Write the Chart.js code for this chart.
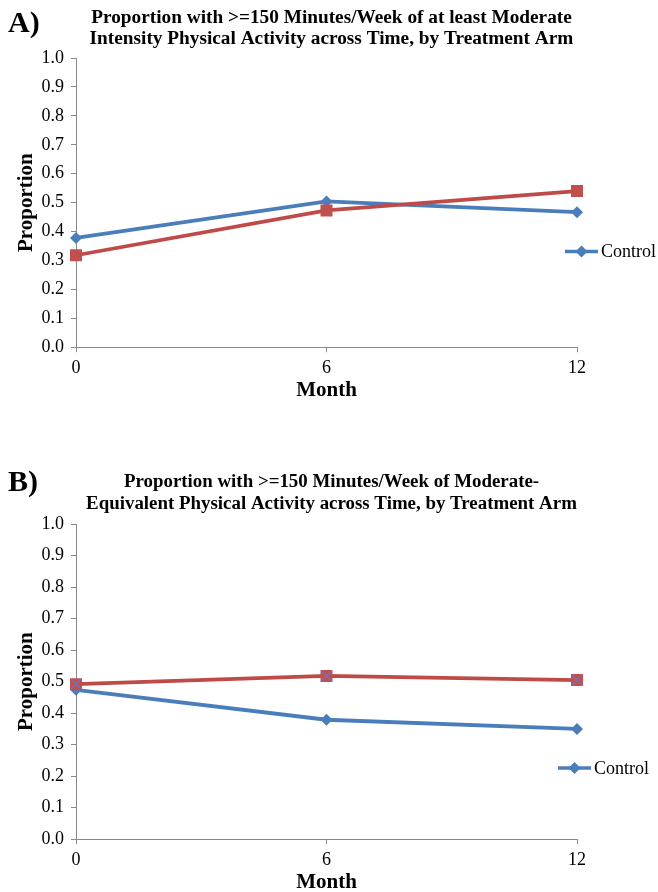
<!DOCTYPE html>
<html>
<head>
<meta charset="utf-8">
<script src="https://cdn.jsdelivr.net/npm/chart.js@4.4.1/dist/chart.umd.min.js"></script>
<style>
  html, body { margin: 0; padding: 0; background: #fff; overflow: hidden; }
  body { width: 658px; height: 892px; position: relative; }
  .panel { position: absolute; left: 0; width: 658px; }
  .tag { position: absolute; left: 8px; font: bold 30px 'Liberation Serif', 'Times New Roman', serif; line-height: 30px; color: #000; }
</style>
</head>
<body>
<div class="panel" id="pa" style="top:0;height:398px;"><canvas id="ca" width="658" height="398"></canvas></div>
<div class="panel" id="pb" style="top:460px;height:430px;"><canvas id="cb" width="658" height="430"></canvas></div>
<div class="tag" style="top:7px;">A)</div>
<div class="tag" style="top:466px;">B)</div>
<script>
// ---- data ----
const months = ['0', '6', '12'];
const controlA = [0.378, 0.504, 0.467];
const interventionA = [0.318, 0.473, 0.540];
const controlB = [0.474, 0.379, 0.350];
const interventionB = [0.492, 0.518, 0.505];
const seriesNames = ['Control', 'Intervention'];
const titleA = ['Proportion with >=150 Minutes/Week of at least Moderate', 'Intensity Physical Activity across Time, by Treatment Arm'];
const titleB = ['Proportion with >=150 Minutes/Week of Moderate-', 'Equivalent Physical Activity across Time, by Treatment Arm'];
const yAxisTitle = 'Proportion';
const xAxisTitle = 'Month';

const FONT = "'Liberation Serif', 'Times New Roman', serif";
const BLUE = '#4A7EBB';
const RED = '#BE4B48';
const AXIS = '#8A8A8A';

// custom legend (only first series shown, as in the reference)
const sideLegend = {
  id: 'sideLegend',
  afterDraw(chart, args, opts) {
    const ctx = chart.ctx;
    const ds = chart.data.datasets[0];
    const x = opts.x, y = opts.y;
    ctx.save();
    ctx.strokeStyle = ds.borderColor;
    ctx.lineWidth = 3.5;
    ctx.beginPath();
    ctx.moveTo(x, y);
    ctx.lineTo(x + 33, y);
    ctx.stroke();
    const cx = x + 16.5, r = 6;
    ctx.fillStyle = ds.pointBackgroundColor;
    ctx.beginPath();
    ctx.moveTo(cx, y - r); ctx.lineTo(cx + r, y); ctx.lineTo(cx, y + r); ctx.lineTo(cx - r, y);
    ctx.closePath();
    ctx.fill();
    ctx.fillStyle = '#000';
    ctx.font = '18px ' + FONT;
    ctx.textBaseline = 'middle';
    ctx.textAlign = 'left';
    ctx.fillText(ds.label, x + 36, y + 1);
    ctx.restore();
  }
};

// X overlay on the squares of panel B
const crossMarks = {
  id: 'crossMarks',
  afterDatasetsDraw(chart, args, opts) {
    if (!opts.enabled) return;
    const meta = chart.getDatasetMeta(1);
    const ctx = chart.ctx;
    ctx.save();
    ctx.strokeStyle = '#7A6FB0';
    ctx.lineWidth = 1.5;
    meta.data.forEach(p => {
      const s = 5;
      ctx.beginPath();
      ctx.moveTo(p.x - s, p.y - s); ctx.lineTo(p.x + s, p.y + s);
      ctx.moveTo(p.x + s, p.y - s); ctx.lineTo(p.x - s, p.y + s);
      ctx.stroke();
    });
    ctx.restore();
  }
};

function makeChart(canvasId, title, ctrl, intv, cfg) {
  return new Chart(document.getElementById(canvasId), {
    type: 'line',
    data: {
      labels: months,
      datasets: [
        {
          label: seriesNames[0], data: ctrl, order: 1,
          borderColor: BLUE, backgroundColor: BLUE, borderWidth: 3.8,
          pointStyle: 'rectRot', pointRadius: 6, pointBorderWidth: 0,
          pointBackgroundColor: BLUE, pointBorderColor: BLUE, tension: 0
        },
        {
          label: seriesNames[1], data: intv, order: 0,
          borderColor: RED, backgroundColor: RED, borderWidth: 3.8,
          pointStyle: 'rect', pointRadius: 8.5, pointBorderWidth: 0,
          pointBackgroundColor: '#C0504D', pointBorderColor: '#C0504D', tension: 0
        }
      ]
    },
    options: {
      responsive: false,
      animation: false,
      devicePixelRatio: 1,
      layout: { padding: { left: 5, right: 0, top: 0, bottom: 0 } },
      plugins: {
        legend: { display: false },
        tooltip: { enabled: false },
        title: {
          display: true, text: title, color: '#000',
          font: { family: FONT, size: cfg.titleSize, weight: 'bold', lineHeight: cfg.titleLH },
          padding: cfg.titlePad
        },
        sideLegend: { x: cfg.legX, y: cfg.legY },
        crossMarks: { enabled: cfg.cross }
      },
      scales: {
        x: {
          type: 'category', offset: false,
          grid: { display: true, drawOnChartArea: false, drawTicks: true, tickLength: 5, color: AXIS, lineWidth: 1 },
          border: { display: true, color: AXIS, width: 1 },
          ticks: { color: '#000', padding: 5, font: { family: FONT, size: 18 }, maxRotation: 0 },
          title: { display: true, text: xAxisTitle, color: '#000', padding: { top: 0, bottom: 0 },
                   font: { family: FONT, size: 21, weight: 'bold', lineHeight: 0.676 } }
        },
        y: {
          type: 'linear', min: 0, max: 1,
          grid: { display: true, drawOnChartArea: false, drawTicks: true, tickLength: 5, color: AXIS, lineWidth: 1 },
          border: { display: true, color: AXIS, width: 1 },
          ticks: { stepSize: 0.1, color: '#000', padding: 7, font: { family: FONT, size: 18 },
                   callback: v => Number(v).toFixed(1) },
          title: { display: true, text: yAxisTitle, color: '#000', padding: { top: 9, bottom: 0 },
                   font: { family: FONT, size: 21, weight: 'bold' } },
          afterFit(s) { s.width = 71; }
        },
        yPad: {
          type: 'linear', position: 'right', display: true,
          grid: { display: false }, border: { display: false }, ticks: { display: false },
          afterFit(s) { s.width = 81; }
        }
      }
    },
    plugins: [sideLegend, crossMarks]
  });
}

makeChart('ca', titleA, controlA, interventionA, { titleSize: 19.3, titleLH: 1.11, titlePad: { top: 7, bottom: 8.2 }, legX: 565, legY: 251.5, cross: false });
makeChart('cb', titleB, controlB, interventionB, { titleSize: 18.9, titleLH: 1.16, titlePad: { top: 11, bottom: 9.2 }, legX: 558, legY: 308, cross: true });
</script>
</body>
</html>
